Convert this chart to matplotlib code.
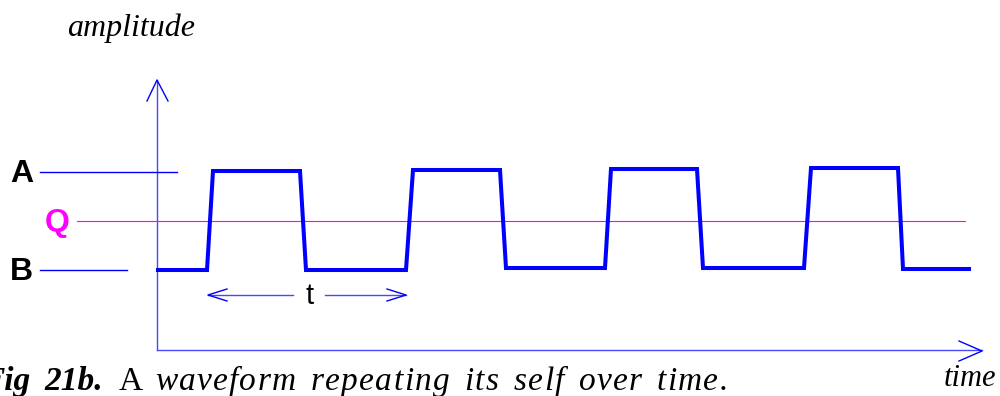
import matplotlib
matplotlib.use("Agg")
import matplotlib.pyplot as plt

# waveform corners (x in px, y in px from top)
wave_x = [158, 207, 213, 300, 306, 406, 413, 500, 506, 605, 611, 697, 703, 804, 811, 898, 903, 969]
wave_y = [270, 270, 171, 171, 270, 270, 170, 170, 268, 268, 169, 169, 268, 268, 168, 168, 269, 269]

level_names = ["A", "Q", "B"]
level_y = [172, 221, 270]
level_colors = ["#000000", "#ff00ff", "#000000"]

# letter-spaced caption, spread evenly between these two x positions
caption_words = ["waveform", "repeating", "its", "self", "over", "time."]
caption_span = (155, 728)
word_gap = 15

BLUE = "#0000ff"
AXIS = "#4848ff"

fig = plt.figure(figsize=(10, 3.96), dpi=100)
ax = fig.add_axes([0, 0, 1, 1])
ax.set_xlim(0, 1000)
ax.set_ylim(396, 0)
ax.axis("off")

# axes with open arrow heads
ax.plot([157, 157], [350, 80], color=AXIS, lw=1)
ax.plot([147, 157, 168], [101, 80, 101], color=BLUE, lw=1)
ax.plot([157, 982], [350, 350], color=AXIS, lw=1)
ax.plot([959, 982, 959], [341, 351, 361], color=BLUE, lw=1)

# reference levels
ax.plot([40, 177], [172, 172], color=BLUE, lw=1)
ax.plot([40, 127], [270, 270], color=BLUE, lw=1)
ax.plot([77, 965], [221, 221], color="#ff00ff", lw=0.8)

# the square wave
ax.plot(wave_x, wave_y, color=BLUE, lw=2.9, solid_joinstyle="miter")

# level labels
label_x = [10, 45, 10]
for name, y, c, x in zip(level_names, level_y, level_colors, label_x):
    ax.text(x, y + 2, name, color=c, fontsize=23, fontweight="bold",
            family="Liberation Sans", ha="left", va="center")

# period marker
ax.plot([208, 293], [295, 295], color=AXIS, lw=1)
ax.plot([227, 208, 227], [289, 295, 301], color=BLUE, lw=1)
ax.plot([325, 406], [295, 295], color=AXIS, lw=1)
ax.plot([387, 406, 387], [289, 295, 301], color=BLUE, lw=1)
ax.text(310, 296, "t", fontsize=21, family="Liberation Sans", ha="center", va="center")

# axis names
ax.text(67, 36, "amplitude", fontsize=23, style="italic", family="Liberation Serif",
        ha="left", va="baseline")
ax.text(996, 386, "time", fontsize=22, style="italic", family="Liberation Serif",
        ha="right", va="baseline")

# caption
ax.text(30, 390, "Fig", fontsize=24, style="italic", fontweight="bold",
        family="Liberation Serif", ha="right", va="baseline")
ax.text(44, 390, "21b.", fontsize=24, style="italic", fontweight="bold",
        family="Liberation Serif", ha="left", va="baseline")
ax.text(119, 390, "A", fontsize=24, family="Liberation Serif", ha="left", va="baseline")

fig.canvas.draw()
renderer = fig.canvas.get_renderer()
inv = ax.transData.inverted()


def data_width(t):
    bb = t.get_window_extent(renderer)
    return inv.transform((bb.x1, 0))[0] - inv.transform((bb.x0, 0))[0]


words = []
for word in caption_words:
    chars = [ax.text(0, 390, ch, fontsize=24, style="italic", family="Liberation Serif",
                     ha="left", va="baseline") for ch in word]
    words.append((chars, [data_width(t) for t in chars]))

total_ink = sum(sum(w) for _, w in words)
inner_gaps = sum(len(c) - 1 for c, _ in words)
span = caption_span[1] - caption_span[0]
track = (span - total_ink - word_gap * (len(words) - 1)) / inner_gaps

x = caption_span[0]
for chars, widths in words:
    for i, (t, w) in enumerate(zip(chars, widths)):
        t.set_x(x)
        x += w + (track if i < len(chars) - 1 else 0)
    x += word_gap

fig.savefig("out.png", dpi=100)
